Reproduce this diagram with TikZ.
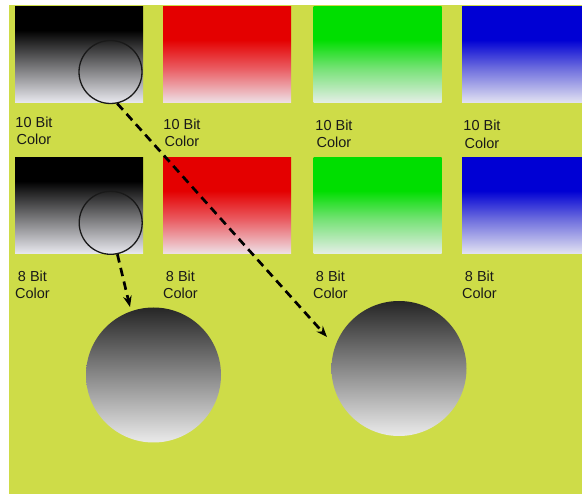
\documentclass[tikz,border=0pt]{standalone}
\usepackage{fontspec}
\setmainfont{Liberation Sans}
\usetikzlibrary{arrows.meta}
\definecolor{bg}{RGB}{206,220,72}
\definecolor{klow}{RGB}{234,234,240}
\definecolor{kmid}{RGB}{112,112,114}
\definecolor{rtop}{RGB}{228,0,0}
\definecolor{rmid}{RGB}{234,92,98}
\definecolor{rlow}{RGB}{238,226,232}
\definecolor{gtop}{RGB}{0,222,0}
\definecolor{gmid}{RGB}{118,226,118}
\definecolor{glow}{RGB}{230,238,232}
\definecolor{btop}{RGB}{0,0,212}
\definecolor{bmid}{RGB}{110,110,222}
\definecolor{blow}{RGB}{228,228,242}
\definecolor{txt}{RGB}{25,25,25}
\pgfdeclareverticalshading{kgrad}{100bp}{color(0bp)=(klow); color(25bp)=(klow); color(45bp)=(kmid); color(63bp)=(black); color(100bp)=(black)}
\pgfdeclareverticalshading{rgrad}{100bp}{color(0bp)=(rlow); color(25bp)=(rlow); color(43bp)=(rmid); color(58bp)=(rtop); color(100bp)=(rtop)}
\pgfdeclareverticalshading{ggrad}{100bp}{color(0bp)=(glow); color(25bp)=(glow); color(43bp)=(gmid); color(58bp)=(gtop); color(100bp)=(gtop)}
\pgfdeclareverticalshading{bgrad}{100bp}{color(0bp)=(blow); color(25bp)=(blow); color(43bp)=(bmid); color(58bp)=(btop); color(100bp)=(btop)}
\tikzset{
  swatch/.style={rectangle, inner sep=0pt, minimum width=128pt, minimum height=96pt, shading=#1},
  ring/.style={circle, draw=black!90, line width=1.3pt, inner sep=0pt, minimum size=63pt},
  ball/.style={circle, inner sep=0pt, minimum size=135pt, top color=black!85, bottom color=black!8},
  lbl/.style={anchor=north, inner sep=0pt, align=center, text=txt, font=\fontsize{14.5}{17.5}\selectfont},
  dasharrow/.style={line width=2.7pt, dash pattern=on 8.5pt off 5.5pt, -{Stealth[length=11pt,width=8.5pt]}}
}
\begin{document}
\begin{tikzpicture}[x=1pt,y=-1pt]
\useasboundingbox (0,0) rectangle (582,494);
\clip (0,0) rectangle (582,494);
\fill[white] (0,0) rectangle (582,494);
\fill[bg] (9,5) rectangle (582,494);
% row 1 swatches
\node[swatch=kgrad] (k1) at (79,55) {};
\node[swatch=rgrad] (r1) at (227,55) {};
\node[swatch=ggrad] (g1) at (377.5,55) {};
\node[swatch=bgrad] (u1) at (526,55) {};
% row 2 swatches
\node[swatch=kgrad] (k2) at (79,206) {};
\node[swatch=rgrad] (r2) at (227,206) {};
\node[swatch=ggrad] (g2) at (377.5,206) {};
\node[swatch=bgrad] (u2) at (526,206) {};
% labels
\node[lbl] (l1) at (34,116.5) {10 Bit\\Color};
\node[lbl] (l2) at (182,118.5) {10 Bit\\Color};
\node[lbl] (l3) at (334,119.5) {10 Bit\\Color};
\node[lbl] (l4) at (482,120) {10 Bit\\Color};
\node[lbl] (m1) at (32.5,270.5) {8 Bit\\Color};
\node[lbl] (m2) at (180.5,270.5) {8 Bit\\Color};
\node[lbl] (m3) at (330.5,270.5) {8 Bit\\Color};
\node[lbl] (m4) at (479.5,270.5) {8 Bit\\Color};
% magnifier rings
\node[ring] (c1) at (110.5,72) {};
\node[ring] (c2) at (110.7,222.8) {};
% big circles
\node[ball] (b1) at (153.5,375) {};
\node[ball] (b2) at (399,368.5) {};
% arrows
\coordinate (t1) at (327,337);
\coordinate (t2) at (130,307);
\draw[dasharrow] (c1.-78) -- (t1);
\draw[dasharrow] (c2.-78) -- (t2);
\end{tikzpicture}
\end{document}
